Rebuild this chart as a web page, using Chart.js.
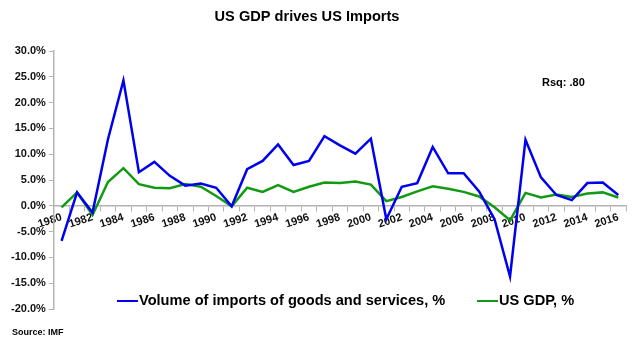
<!DOCTYPE html>
<html>
<head>
<meta charset="utf-8">
<script src="https://cdn.jsdelivr.net/npm/chart.js@4/dist/chart.umd.min.js"></script>
<style>
  html, body { margin: 0; padding: 0; background: #fff; }
  #wrap { width: 640px; height: 348px; position: relative; }
</style>
</head>
<body>
<div id="wrap"><canvas id="chart"></canvas></div>
<script>
const years = [];
for (let y = 1980; y <= 2016; y++) years.push(String(y));

const imports = [
  -6.8, 2.6, -1.3, 12.9, 24.3, 6.5, 8.5, 5.8, 3.9, 4.3,
  3.5, -0.1, 7.1, 8.7, 11.9, 7.9, 8.7, 13.5, 11.7, 10.1,
  13.0, -2.6, 3.7, 4.4, 11.4, 6.3, 6.3, 2.8, -2.6, -13.7,
  12.8, 5.5, 2.1, 1.1, 4.4, 4.5, 2.1
];

const gdp = [
  -0.3, 2.6, -1.8, 4.6, 7.3, 4.2, 3.5, 3.4, 4.2, 3.7,
  1.9, -0.1, 3.5, 2.7, 4.0, 2.7, 3.7, 4.5, 4.4, 4.7,
  4.1, 0.9, 1.7, 2.8, 3.8, 3.3, 2.7, 1.8, -0.3, -2.8,
  2.5, 1.6, 2.2, 1.7, 2.4, 2.6, 1.6
];

const font = '"Liberation Sans", Arial, sans-serif';
const axisGrey = "#b4b4b4";

// title, legend, note and source are drawn by hand, legend sits over the plot like the original
const extras = {
  id: "extras",
  afterDraw(chart) {
    const ctx = chart.ctx;
    ctx.save();
    ctx.fillStyle = "#000";
    ctx.textBaseline = "middle";

    ctx.font = "bold 14.6px " + font;
    ctx.textAlign = "center";
    ctx.fillText("US GDP drives US Imports", 307, 17);
    ctx.textAlign = "left";

    ctx.font = "bold 11px " + font;
    ctx.fillText("Rsq: .80", 542, 83);

    const items = [
      { x: 117, ds: chart.data.datasets[0] },
      { x: 477, ds: chart.data.datasets[1] },
    ];
    ctx.font = "bold 14.6px " + font;
    items.forEach((it) => {
      ctx.strokeStyle = it.ds.borderColor;
      ctx.lineWidth = 2;
      ctx.beginPath();
      ctx.moveTo(it.x, 301);
      ctx.lineTo(it.x + 21, 301);
      ctx.stroke();
      ctx.fillStyle = "#000";
      ctx.fillText(it.ds.label, it.x + 22, 301);
    });

    ctx.font = "bold 9px " + font;
    ctx.fillText("Source: IMF", 12, 333);
    ctx.restore();
  },
};

new Chart(document.getElementById("chart"), {
  type: "line",
  data: {
    labels: years,
    datasets: [
      {
        label: "Volume of imports of goods and services, %",
        data: imports,
        borderColor: "#0000f0",
        borderWidth: 2.5,
        pointRadius: 0,
        tension: 0,
      },
      {
        label: "US GDP, %",
        data: gdp,
        borderColor: "#139a13",
        borderWidth: 2.5,
        pointRadius: 0,
        tension: 0,
      },
    ],
  },
  options: {
    responsive: true,
    maintainAspectRatio: false,
    animation: false,
    layout: {
      padding: { top: 51, right: 14, bottom: 39, left: 8 },
    },
    plugins: {
      legend: { display: false },
      tooltip: { enabled: false },
      title: { display: false },
    },
    scales: {
      x: {
        position: { y: 0 },
        offset: true,
        border: { color: axisGrey, width: 1.5 },
        grid: {
          offset: true,
          drawOnChartArea: false,
          color: axisGrey,
          tickLength: 5,
        },
        ticks: {
          autoSkip: false,
          maxRotation: 18,
          minRotation: 18,
          padding: 0,
          color: "#111",
          font: { family: font, size: 11, weight: "bold" },
          callback: function (value, index) {
            return index % 2 === 0 ? years[index] : "";
          },
        },
      },
      y: {
        min: -20,
        max: 30,
        border: { color: axisGrey, width: 1.5 },
        grid: {
          drawOnChartArea: false,
          color: axisGrey,
          tickLength: 5,
        },
        ticks: {
          stepSize: 5,
          padding: 3,
          color: "#111",
          font: { family: font, size: 11, weight: "bold" },
          callback: (v) => v.toFixed(1) + "%",
        },
      },
    },
  },
  plugins: [extras],
});
</script>
</body>
</html>
